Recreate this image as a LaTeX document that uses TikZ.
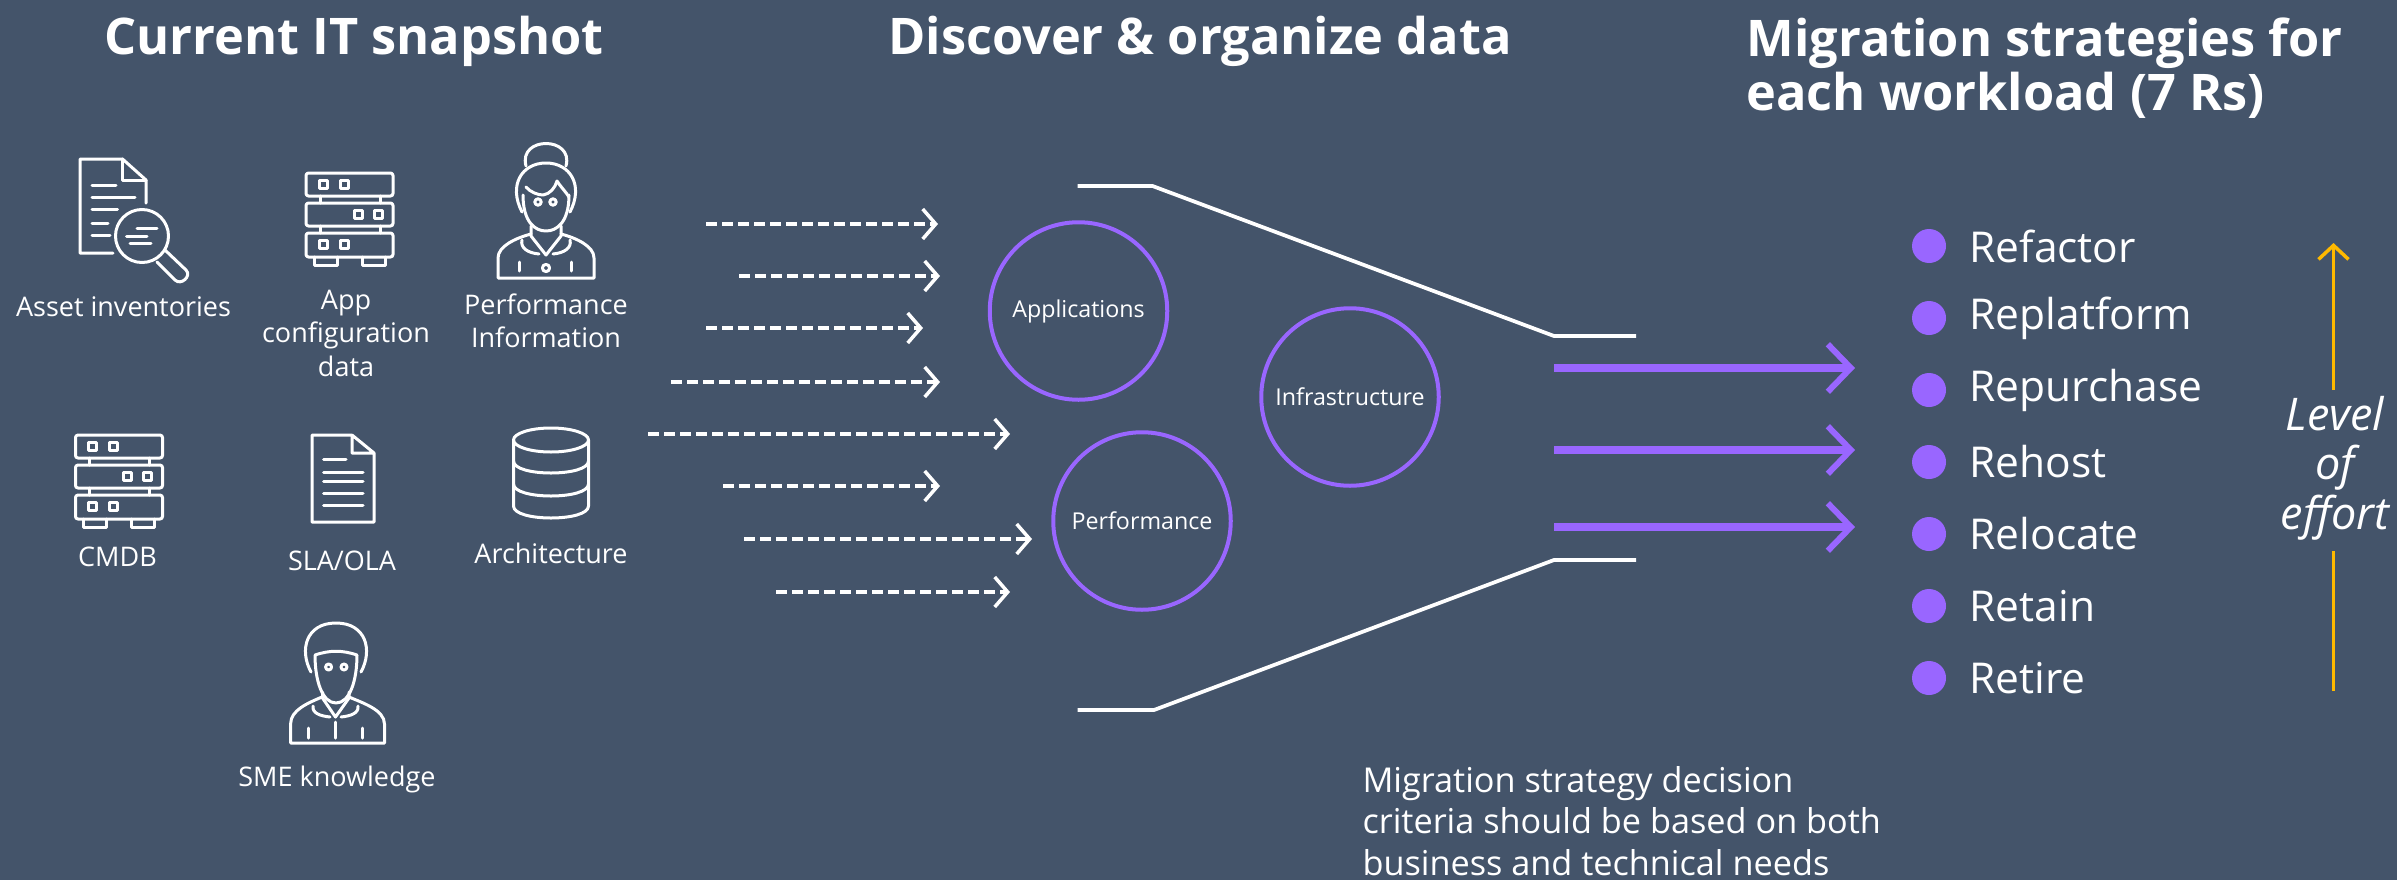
\documentclass[tikz,border=0pt]{standalone}
\usepackage{fontspec}
\setmainfont{Open Sans}
\usetikzlibrary{arrows.meta}
\definecolor{bgc}{HTML}{44546A}
\definecolor{pur}{HTML}{9966FF}
\definecolor{yel}{HTML}{FFB900}
\newcommand{\fs}[2]{\fontsize{#1pt}{#2pt}\selectfont}
\tikzset{
  ic/.style={draw=white,line width=1.2pt,line join=round,line cap=round},
  title/.style={text=white,font=\fs{20.2}{21.6}\bfseries,inner sep=0pt,align=left},
  lab/.style={text=white,font=\fs{10.8}{13.4},inner sep=0pt,align=center},
  circ/.style={circle,draw=pur,line width=1.6pt,minimum size=71pt,inner sep=0pt,text=white,font=\fs{9.3}{10}},
  rr/.style={text=white,font=\fs{17}{18},inner sep=0pt,anchor=west},
  dot/.style={circle,fill=pur,minimum size=13.6pt,inner sep=0pt},
  dashar/.style={draw=white,line width=1.6pt,dash pattern=on 4.4pt off 2pt,-{Straight Barb[length=5.2pt,width=12pt,line width=1.4pt]}},
  purar/.style={draw=pur,line width=3.2pt,-{Straight Barb[length=9.2pt,width=19pt,line width=2.4pt]}},
  yelar/.style={draw=yel,line width=1.5pt},
  funnel/.style={draw=white,line width=1.5pt,line join=miter},
  server/.pic={
    \draw[ic,rounded corners=1pt] (0,0) rectangle (87,23);
    \draw[ic,rounded corners=1pt] (0,30) rectangle (87,53);
    \draw[ic,rounded corners=1pt] (0,60) rectangle (87,84);
    \draw[ic] (14,23)--(14,30) (74,23)--(74,30) (14,53)--(14,60) (74,53)--(74,60);
    \draw[ic] (8,84)--(8,92)--(31,92)--(31,84) (56,84)--(56,92)--(79,92)--(79,84);
    \draw[ic] (13,7) rectangle (21,15) (34,7) rectangle (42,15);
    \draw[ic] (48,37) rectangle (56,45) (68,37) rectangle (76,45);
    \draw[ic] (13,67) rectangle (21,75) (34,67) rectangle (42,75);
  }
}
\begin{document}
\begin{tikzpicture}[x=0.4pt,y=-0.4pt]
\useasboundingbox (0,0) rectangle (2397,880);
\fill[bgc] (0,0) rectangle (2397,880);
% titles
\node[title,anchor=center] (t1) at (354,41) {Current IT snapshot};
\node[title,anchor=center] (t2) at (1200,41) {Discover \& organize data};
\node[title,anchor=west] (t3) at (1746,68) {Migration strategies for\\each workload (7 Rs)};
% doc with magnifier
\draw[ic] (113,253)--(80,253)--(80,159)--(122.5,159)--(146,180)--(146,203);
\draw[ic] (122.5,159)--(122.5,180)--(146,180);
\draw[ic] (92,185)--(116,185) (92,197)--(135,197) (92,209)--(117.5,209) (92,223)--(108,223) (92,235)--(110,235);
\draw[ic] (142,236) circle[radius=26.5];
\draw[ic] (137,228)--(157,228) (126.5,236)--(147,236) (130,243)--(151,243);
\draw[ic] (165,250)--(186,270) .. controls (192,276) and (181,286) .. (175,280)--(157,262);
% servers
\pic at (306,173) {server};
\pic at (75.5,435) {server};
% woman
\draw[ic] (526,166) .. controls (518,136) and (574,136) .. (566,166);
\draw[ic] (522,212) .. controls (508,185) and (522,163) .. (546,163) .. controls (570,163) and (584,185) .. (570,212);
\draw[ic] (523,195) .. controls (523,222) and (535,231) .. (546,231) .. controls (557,231) and (569,222) .. (569,195);
\draw[ic] (526,187) .. controls (530,192) and (538,195) .. (543,195) .. controls (550,194) and (555,188) .. (557,181) .. controls (560,186) and (566,192) .. (569,197);
\draw[ic] (538,202) circle[radius=3.2] (553,202) circle[radius=3.2];
\draw[ic] (531,226)--(531,236)--(546,255)--(561,236)--(561,226);
\draw[ic] (498,278)--(498,258) .. controls (498,246) and (516,238) .. (531,234) (561,234) .. controls (576,238) and (594,246) .. (594,258)--(594,278)--(498,278);
\draw[ic] (522,240) .. controls (520,248) and (528,253) .. (539,254) (570,240) .. controls (572,248) and (564,253) .. (553,254);
\draw[ic] (519,262)--(519,271) (571,262)--(571,271);
\draw[ic] (546,268) circle[radius=3.6];
% doc 2
\draw[ic] (352,435)--(312,435)--(312,522)--(374,522)--(374,453)--(352,435)--(352,453)--(374,453);
\draw[ic] (323.6,459)--(346,459) (323.6,472)--(363,472) (323.6,481)--(363,481) (323.6,493)--(363,493) (323.6,505)--(363,505);
% database
\draw[ic] (551,440) ellipse[x radius=37.5,y radius=12];
\draw[ic] (513.5,440)--(513.5,506) .. controls (513.5,522) and (588.5,522) .. (588.5,506)--(588.5,440);
\draw[ic] (513.5,461) .. controls (513.5,477) and (588.5,477) .. (588.5,461);
\draw[ic] (513.5,484) .. controls (513.5,500) and (588.5,500) .. (588.5,484);
% man
\draw[ic] (311,672) .. controls (299,650) and (306,623) .. (336,623) .. controls (366,623) and (373,650) .. (361,672);
\draw[ic] (315,655) .. controls (330,650) and (342,650) .. (357,655) (315,655) .. controls (315,680) and (322,703) .. (336,703) .. controls (350,703) and (357,680) .. (357,655);
\draw[ic] (328.6,667) circle[radius=3] (344,667) circle[radius=3];
\draw[ic] (322.5,692)--(322.5,698)--(335.5,717)--(349,698)--(349,692);
\draw[ic] (290.6,743)--(290.6,724) .. controls (290.6,710) and (308,703) .. (322,697) (349,697) .. controls (363,703) and (384.5,710) .. (384.5,724)--(384.5,743)--(290.6,743);
\draw[ic] (313,706) .. controls (312,713) and (320,716) .. (330,717) (358,706) .. controls (359,713) and (351,716) .. (341,717);
\draw[ic] (335.5,722)--(335.5,738) (308,728)--(308,738) (362.5,728)--(362.5,738);
% labels
\node[lab] (l1) at (123.5,307) {Asset inventories};
\node[lab] (l2) at (346,333) {App\\configuration\\data};
\node[lab] (l3) at (546,321) {Performance\\Information};
\node[lab] (l4) at (117.5,557) {CMDB};
\node[lab] (l5) at (342,561) {SLA/OLA};
\node[lab] (l6) at (551,553) {Architecture};
\node[lab] (l7) at (337,779) {SME knowledge};
% circles
\node[circ] (c1) at (1078.5,311) {Applications};
\node[circ] (c2) at (1142,521) {Performance};
\node[circ] (c3) at (1350,397) {Infrastructure};
% dashed arrows
\foreach \n/\a/\b/\y in {1/706/938/224,2/739/940/276,3/706/923/328,4/671/940/382,5/648/1010/434,6/723/940/486,7/744/1032/539,8/776/1010/592}{
  \coordinate (ds\n) at (\a,\y);
  \coordinate (de\n) at (\b,\y);
  \draw[dashar] (ds\n)--(de\n);
}
% funnel
\coordinate (fa) at (1077.5,186); \coordinate (fb) at (1152.5,186); \coordinate (fc) at (1554,336); \coordinate (fd) at (1636,336);
\coordinate (ga) at (1077.5,710); \coordinate (gb) at (1154,710); \coordinate (gc) at (1554,560); \coordinate (gd) at (1636,560);
\draw[funnel] (fa)--(fb)--(fc)--(fd);
\draw[funnel] (ga)--(gb)--(gc)--(gd);
% purple arrows
\foreach \n/\y in {1/368,2/450,3/527}{
  \coordinate (ps\n) at (1554,\y);
  \coordinate (pe\n) at (1855,\y);
  \draw[purar] (ps\n)--(pe\n);
}
% list
\foreach \n/\y/\t in {1/246/Refactor,2/318/Replatform,3/390/Repurchase,4/462/Rehost,5/534/Relocate,6/606/Retain,7/678/Retire}{
  \node[dot] (b\n) at (1929,\y) {};
  \node[rr] (r\n) at (1969,\y) {\t};
}
% effort
\node[text=white,font=\fs{18}{19.8}\itshape,inner sep=0pt,align=center] (eff) at (2335,468) {Level\\of\\effort};
\coordinate (ya) at (2333.5,390); \coordinate (yb) at (2333.5,243); \coordinate (yc) at (2333.5,551); \coordinate (yd) at (2333.5,691);
\draw[yelar,-{Straight Barb[length=5.6pt,width=12pt,line width=1.4pt]}] (ya)--(yb);
\draw[yelar] (yc)--(yd);
% bottom text
\node[text=white,font=\fs{13.7}{16.6},inner sep=0pt,align=left,anchor=west] (note) at (1362,821) {Migration strategy decision\\criteria should be based on both\\business and technical needs};
\end{tikzpicture}
\end{document}
